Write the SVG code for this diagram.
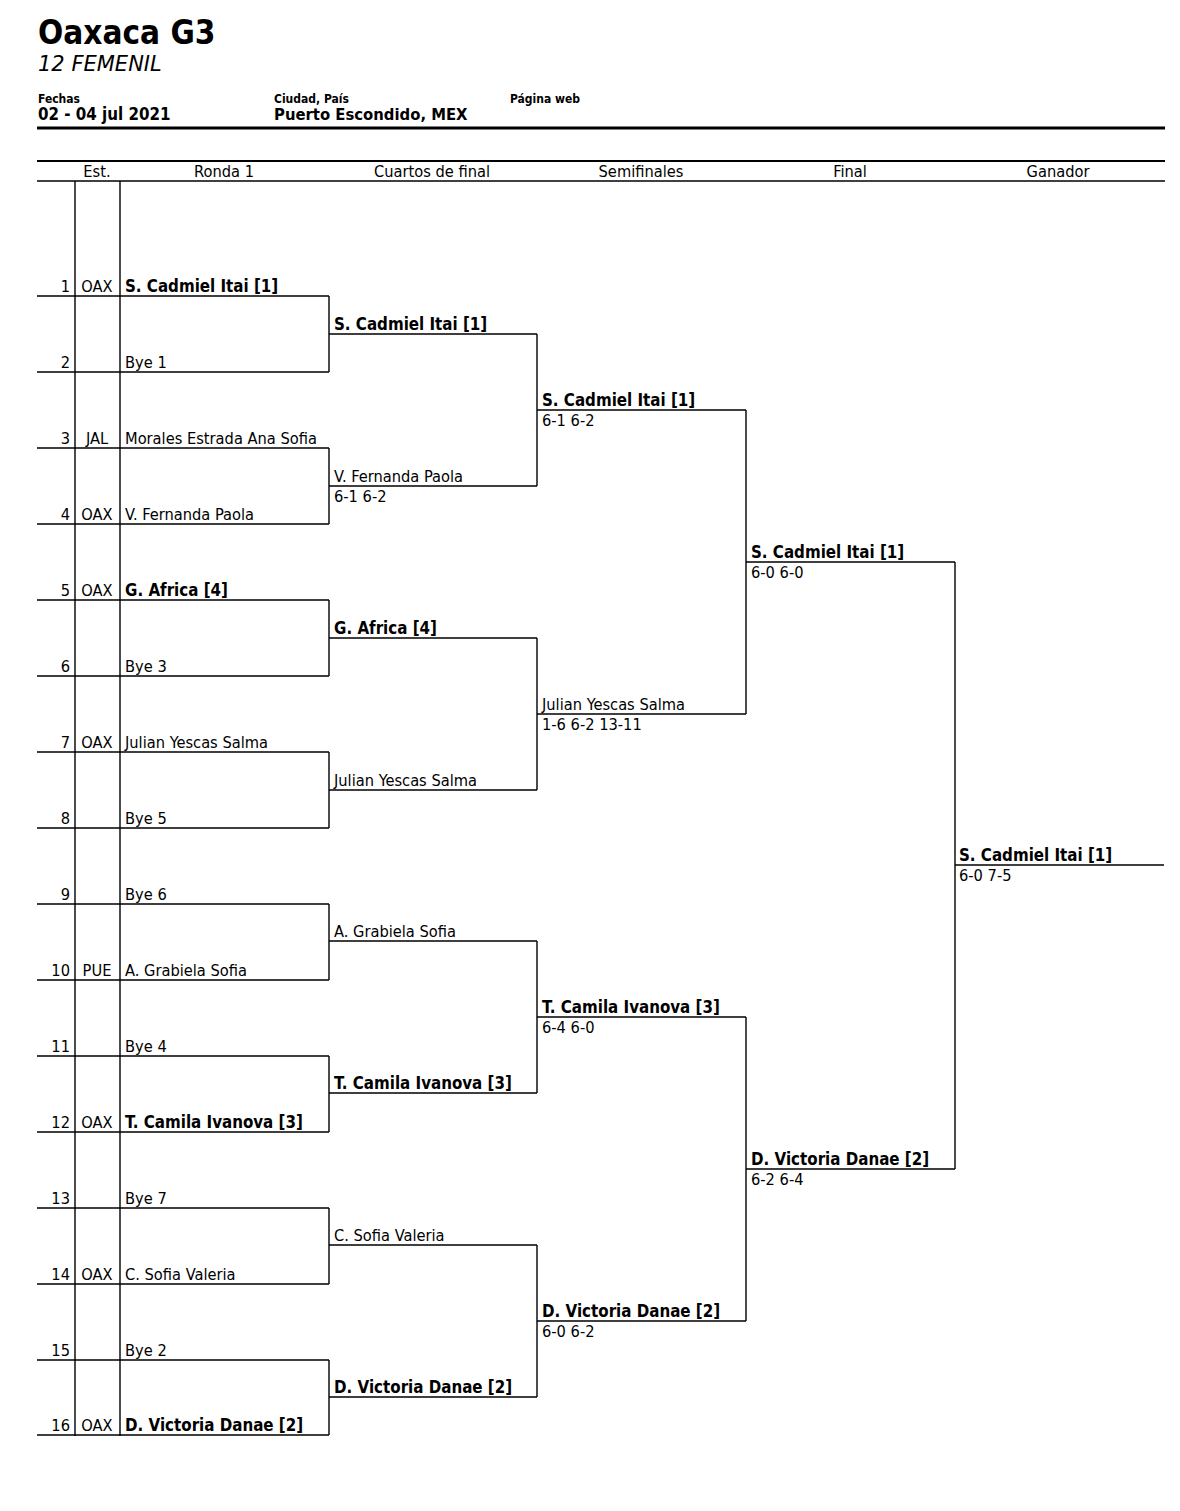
<svg xmlns="http://www.w3.org/2000/svg" width="1180" height="1511" viewBox="0 0 1180 1511">
<style>
text{font-family:"DejaVu Sans Condensed","DejaVu Sans",sans-serif;fill:#000}
.t{font-size:16.3px}
.t .b{font-size:16.8px}
.b{font-weight:bold}
.n{text-anchor:end}
.c{text-anchor:middle}
.ln{stroke:#000;stroke-width:1.4;fill:none}
</style>
<rect width="1180" height="1511" fill="#fff"/>
<g id="header">
<text x="38" y="44" font-size="33" class="b">Oaxaca G3</text>
<text x="38" y="71" style="font-family:'DejaVu Sans',sans-serif;font-size:21px;font-style:italic">12 FEMENIL</text>
<text x="38" y="103" font-size="12" class="b">Fechas</text>
<text x="38" y="120" font-size="16.8" class="b">02 - 04 jul 2021</text>
<text x="274" y="103" font-size="12" class="b">Ciudad, País</text>
<text x="274" y="120" font-size="16.5" class="b">Puerto Escondido, MEX</text>
<text x="510" y="103" font-size="12" class="b">Página web</text>
<line x1="37" y1="128" x2="1165" y2="128" stroke="#000" stroke-width="3"/>
<line x1="37" y1="161" x2="1165" y2="161" stroke="#000" stroke-width="2"/>
<line x1="37" y1="181" x2="1165" y2="181" stroke="#000" stroke-width="1.4"/>
<g class="t c">
<text x="97" y="177">Est.</text>
<text x="224" y="177">Ronda 1</text>
<text x="432" y="177">Cuartos de final</text>
<text x="641" y="177">Semifinales</text>
<text x="850" y="177">Final</text>
<text x="1058" y="177">Ganador</text>
</g>
</g>
<g id="connectors" class="ln">
<path d="M75,181V1436M120,181V1436"/>
<path d="M37,296H329M37,372H329M37,448H329M37,524H329M37,600H329M37,676H329M37,752H329M37,828H329M37,904H329M37,980H329M37,1056H329M37,1132H329M37,1208H329M37,1284H329M37,1360H329M37,1435H329"/>
<path d="M329,296V372M329,448V524M329,600V676M329,752V828M329,904V980M329,1056V1132M329,1208V1284M329,1360V1435"/>
<path d="M329,334H537M329,486H537M329,638H537M329,790H537M329,941H537M329,1093H537M329,1245H537M329,1397H537"/>
<path d="M537,334V486M537,638V790M537,941V1093M537,1245V1397"/>
<path d="M537,410H746M537,714H746M537,1017H746M537,1321H746"/>
<path d="M746,410V714M746,1017V1321"/>
<path d="M746,562H955M746,1169H955"/>
<path d="M955,562V1169"/>
<path d="M955,865H1164"/>
</g>
<g id="round1" class="t">
<g id="p1"><text x="70" y="292" class="n">1</text><text x="97" y="292" class="c">OAX</text><text x="125" y="292" class="b">S. Cadmiel Itai [1]</text></g>
<g id="p2"><text x="70" y="368" class="n">2</text><text x="125" y="368">Bye 1</text></g>
<g id="p3"><text x="70" y="444" class="n">3</text><text x="97" y="444" class="c">JAL</text><text x="125" y="444">Morales Estrada Ana Sofia</text></g>
<g id="p4"><text x="70" y="520" class="n">4</text><text x="97" y="520" class="c">OAX</text><text x="125" y="520">V. Fernanda Paola</text></g>
<g id="p5"><text x="70" y="596" class="n">5</text><text x="97" y="596" class="c">OAX</text><text x="125" y="596" class="b">G. Africa [4]</text></g>
<g id="p6"><text x="70" y="672" class="n">6</text><text x="125" y="672">Bye 3</text></g>
<g id="p7"><text x="70" y="748" class="n">7</text><text x="97" y="748" class="c">OAX</text><text x="125" y="748">Julian Yescas Salma</text></g>
<g id="p8"><text x="70" y="824" class="n">8</text><text x="125" y="824">Bye 5</text></g>
<g id="p9"><text x="70" y="900" class="n">9</text><text x="125" y="900">Bye 6</text></g>
<g id="p10"><text x="70" y="976" class="n">10</text><text x="97" y="976" class="c">PUE</text><text x="125" y="976">A. Grabiela Sofia</text></g>
<g id="p11"><text x="70" y="1052" class="n">11</text><text x="125" y="1052">Bye 4</text></g>
<g id="p12"><text x="70" y="1128" class="n">12</text><text x="97" y="1128" class="c">OAX</text><text x="125" y="1128" class="b">T. Camila Ivanova [3]</text></g>
<g id="p13"><text x="70" y="1204" class="n">13</text><text x="125" y="1204">Bye 7</text></g>
<g id="p14"><text x="70" y="1280" class="n">14</text><text x="97" y="1280" class="c">OAX</text><text x="125" y="1280">C. Sofia Valeria</text></g>
<g id="p15"><text x="70" y="1356" class="n">15</text><text x="125" y="1356">Bye 2</text></g>
<g id="p16"><text x="70" y="1431" class="n">16</text><text x="97" y="1431" class="c">OAX</text><text x="125" y="1431" class="b">D. Victoria Danae [2]</text></g>
</g>
<g id="quarters" class="t">
<g id="q1"><text x="334" y="330" class="b">S. Cadmiel Itai [1]</text></g>
<g id="q2"><text x="334" y="482">V. Fernanda Paola</text><text x="334" y="502">6-1 6-2</text></g>
<g id="q3"><text x="334" y="634" class="b">G. Africa [4]</text></g>
<g id="q4"><text x="334" y="786">Julian Yescas Salma</text></g>
<g id="q5"><text x="334" y="937">A. Grabiela Sofia</text></g>
<g id="q6"><text x="334" y="1089" class="b">T. Camila Ivanova [3]</text></g>
<g id="q7"><text x="334" y="1241">C. Sofia Valeria</text></g>
<g id="q8"><text x="334" y="1393" class="b">D. Victoria Danae [2]</text></g>
</g>
<g id="semis" class="t">
<g id="s1"><text x="542" y="406" class="b">S. Cadmiel Itai [1]</text><text x="542" y="426">6-1 6-2</text></g>
<g id="s2"><text x="542" y="710">Julian Yescas Salma</text><text x="542" y="730">1-6 6-2 13-11</text></g>
<g id="s3"><text x="542" y="1013" class="b">T. Camila Ivanova [3]</text><text x="542" y="1033">6-4 6-0</text></g>
<g id="s4"><text x="542" y="1317" class="b">D. Victoria Danae [2]</text><text x="542" y="1337">6-0 6-2</text></g>
</g>
<g id="final" class="t">
<g id="f1"><text x="751" y="558" class="b">S. Cadmiel Itai [1]</text><text x="751" y="578">6-0 6-0</text></g>
<g id="f2"><text x="751" y="1165" class="b">D. Victoria Danae [2]</text><text x="751" y="1185">6-2 6-4</text></g>
</g>
<g id="winner" class="t">
<text x="959" y="861" class="b">S. Cadmiel Itai [1]</text><text x="959" y="881">6-0 7-5</text>
</g>
</svg>
